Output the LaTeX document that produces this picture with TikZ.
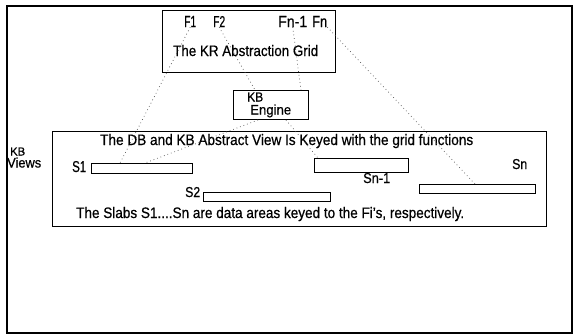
\documentclass[tikz,border=0pt]{standalone}
\usepackage{fontspec}
\setmainfont[FakeBold=0.6]{Liberation Sans}
\usepackage{graphicx}
\newcommand\fittext[3]{\resizebox{#1pt}{#2pt}{#3}}
\begin{document}
\begin{tikzpicture}[x=1pt,y=-1pt,
  box/.style={draw=black,line width=1pt,inner sep=0pt,anchor=north west},
  lbl/.style={inner sep=0pt,anchor=base west,text=black},
  link/.style={draw=black!70,line width=0.7pt,dash pattern=on 0.7pt off 3pt}]
\useasboundingbox (0,0) rectangle (578,335);
\fill[white] (0,0) rectangle (578,335);
\node[draw=black,line width=2pt,inner sep=0pt,anchor=north west,minimum width=565pt,minimum height=327pt] (frame) at (6,5) {};
% top grid box
\node[box,minimum width=173pt,minimum height=62pt] (grid) at (162,10) {};
\node[lbl] (f1) at (184,27) {\fittext{12}{11}{F1}};
\node[lbl] (f2) at (213,27) {\fittext{12}{11}{F2}};
\node[lbl] (fn1) at (278,27) {\fittext{29}{11}{Fn-1}};
\node[lbl] (fn) at (312,27) {\fittext{15}{11}{Fn}};
\node[lbl] (gridt) at (173,56) {\fittext{145}{11}{The KR Abstraction Grid}};
% engine
\node[box,minimum width=75pt,minimum height=29pt] (engine) at (233,90) {};
\node[lbl] (kb) at (247,101.5) {\fittext{16}{9}{KB}};
\node[lbl] (eng) at (250,114.5) {\fittext{41}{10}{Engine}};
% views
\node[lbl] (kbv) at (10,155.5) {\fittext{15}{8}{KB}};
\node[lbl] (views) at (7,167.5) {\fittext{34}{10}{Views}};
\node[box,minimum width=494pt,minimum height=95pt] (big) at (52,131) {};
\node[lbl] (title) at (100,145) {\fittext{373}{11}{The DB and KB Abstract View Is Keyed with the grid functions}};
\node[lbl] (bottom) at (76,218) {\fittext{388}{11}{The Slabs S1....Sn are data areas keyed to the Fi's, respectively.}};
% slabs
\node[box,minimum width=101pt,minimum height=10pt] (s1) at (91,163) {};
\node[box,minimum width=127pt,minimum height=9pt] (s2) at (203,192) {};
\node[box,minimum width=94pt,minimum height=14pt] (sn1) at (314,158) {};
\node[box,minimum width=116pt,minimum height=9pt] (sn) at (419,184) {};
\node[lbl] (s1l) at (72,172) {\fittext{14}{11}{S1}};
\node[lbl] (s2l) at (185,197) {\fittext{15}{10}{S2}};
\node[lbl] (sn1l) at (363,183) {\fittext{27}{10}{Sn-1}};
\node[lbl] (snl) at (512,169) {\fittext{15}{10}{Sn}};
% dotted links
\draw[link] (f1.south) -- ([xshift=29pt]s1.north west);
\draw[link] (f2.south) -- ([xshift=22pt]engine.north west);
\draw[link] (fn1.south) -- ([xshift=-8pt]engine.north east);
\draw[link] ([xshift=25pt]engine.south west) -- ([xshift=54pt]s1.north west);
\draw[link] ([xshift=-23pt]engine.south east) -- ([xshift=4pt]sn1.north west);
\draw[link] (fn.south east) -- ([xshift=56pt]sn.north west);
\end{tikzpicture}
\end{document}
